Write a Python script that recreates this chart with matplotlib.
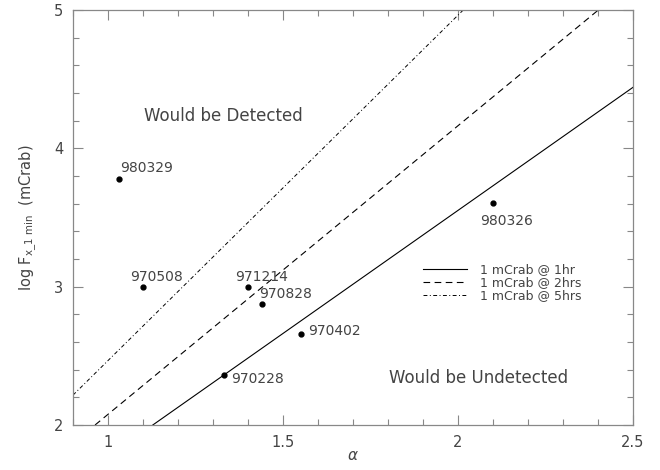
import matplotlib
matplotlib.use("Agg")
import matplotlib.pyplot as plt
from matplotlib.ticker import MultipleLocator

# Data
burst_names = ["980329", "970508", "971214", "970828", "970402", "970228", "980326"]
alpha_vals = [1.031, 1.101, 1.401, 1.441, 1.551, 1.331, 2.100]
logf_vals = [3.778, 3.000, 3.000, 2.872, 2.660, 2.361, 3.602]
label_alpha = [1.034, 1.063, 1.363, 1.432, 1.572, 1.353, 2.063]
label_logf = [3.829, 3.043, 3.043, 2.915, 2.650, 2.301, 3.445]

line_labels = ["1 mCrab @ 1hr", "1 mCrab @ 2hrs", "1 mCrab @ 5hrs"]
line1_x = [1.128, 2.5]
line1_y = [2.0, 4.441]
line2_x = [0.963, 2.401]
line2_y = [2.0, 5.0]
line3_x = [0.9, 2.015]
line3_y = [2.216, 5.0]

xticks = [1, 1.5, 2, 2.5]
xticklabels = ["1", "1.5", "2", "2.5"]
yticks = [2, 3, 4, 5]
yticklabels = ["2", "3", "4", "5"]

TXT = "#444444"
SPINE = "#888888"

fig = plt.figure(figsize=(6.6, 4.7), dpi=100)
ax = fig.add_axes([73 / 660, 1 - 425 / 470, 560 / 660, 415 / 470])

ax.plot(line1_x, line1_y, color="black", lw=0.8, ls="-", label=line_labels[0])
ax.plot(line2_x, line2_y, color="black", lw=0.8, ls=(0, (6, 4)), label=line_labels[1])
ax.plot(line3_x, line3_y, color="black", lw=0.7, ls=(0, (4, 2.5, 1, 2.5)), label=line_labels[2])

ax.plot(alpha_vals, logf_vals, "o", color="black", ms=3.5, ls="none")
for name, lx, ly in zip(burst_names, label_alpha, label_logf):
    ax.text(lx, ly, name, fontsize=10, color=TXT, ha="left", va="baseline")

ax.text(1.104, 4.200, "Would be Detected", fontsize=12, color=TXT, ha="left", va="baseline")
ax.text(1.804, 2.301, "Would be Undetected", fontsize=12, color=TXT, ha="left", va="baseline")

ax.set_xlim(0.9, 2.5)
ax.set_ylim(2, 5)
ax.set_xticks(xticks)
ax.set_xticklabels(xticklabels)
ax.set_yticks(yticks)
ax.set_yticklabels(yticklabels)
ax.xaxis.set_minor_locator(MultipleLocator(0.1))
ax.yaxis.set_minor_locator(MultipleLocator(0.2))
ax.tick_params(which="both", direction="in", top=True, right=True, colors=SPINE,
               labelcolor=TXT, labelsize=10.5, width=0.8)
ax.tick_params(which="major", length=7, pad=7)
ax.tick_params(which="minor", length=4)
for s in ax.spines.values():
    s.set_color(SPINE)
    s.set_linewidth(0.9)

ax.set_xlabel(r"$\alpha$", fontsize=11, color=TXT, labelpad=-1)
ax.set_ylabel(r"log F$_{\rm x\_1\ min}$  (mCrab)", fontsize=10.5, color=TXT, labelpad=11)

leg = ax.legend(loc="upper left", bbox_to_anchor=(0.6255, 0.390), frameon=False,
                fontsize=9, handlelength=3.5, handletextpad=1.0, labelspacing=0.0,
                borderpad=0, borderaxespad=0)
for t in leg.get_texts():
    t.set_color(TXT)

fig.savefig("out.png", dpi=100)
